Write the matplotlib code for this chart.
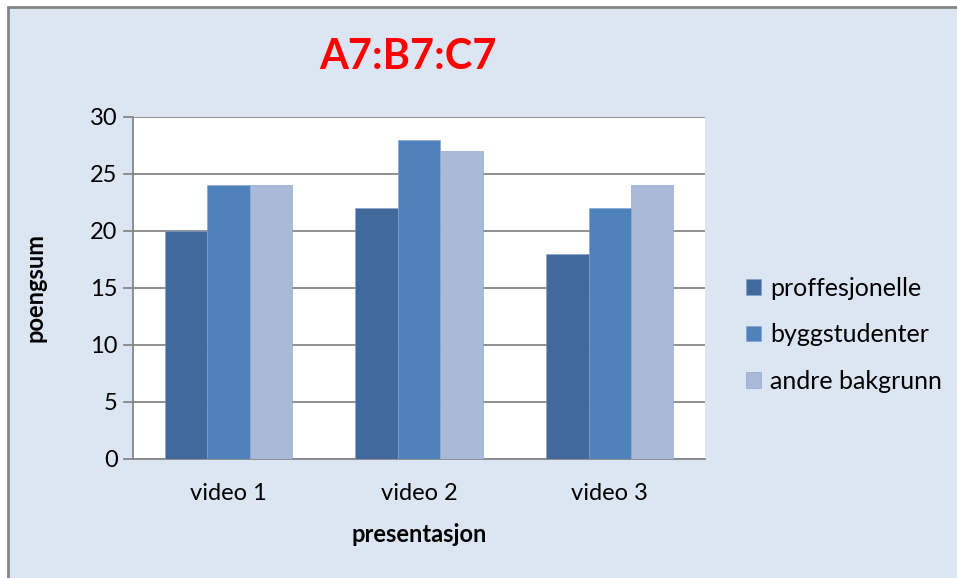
import numpy as np
import matplotlib.pyplot as plt
from matplotlib.patches import Rectangle

# Data
categories = ["video 1", "video 2", "video 3"]
series_names = ["proffesjonelle", "byggstudenter", "andre bakgrunn"]
proffesjonelle = [20, 22, 18]
byggstudenter = [24, 28, 22]
andre_bakgrunn = [24, 27, 24]

colors = ["#41699B", "#4F81BD", "#A9BAD8"]
bg = "#DCE6F2"
grey = "#878787"

plt.rcParams["font.family"] = ["Lato", "DejaVu Sans"]

fig = plt.figure(figsize=(9.57, 5.78), dpi=100, facecolor="white")
# chart area: grey frame on left/top, cut off at the right and bottom
top_y = 1 - 7 / 578
left_x = 8 / 957
fig.patches.append(Rectangle((left_x, -0.02), 1.05, top_y + 0.02, transform=fig.transFigure,
                             facecolor=bg, edgecolor="#858585", linewidth=2.0, zorder=-1))
ax = fig.add_axes([0.139, 0.2059, 0.5977, 0.5917])
ax.set_facecolor("white")

x = np.arange(len(categories))
w = 1 / 4.5
for i, (vals, name) in enumerate(zip([proffesjonelle, byggstudenter, andre_bakgrunn], series_names)):
    ax.bar(x + (i - 1) * w, vals, width=w, color=colors[i], label=name,
           edgecolor="#7FA0CC", linewidth=0.4, zorder=3)

ax.set_xlim(-0.5, 2.5)
ax.set_ylim(0, 30)
ax.set_yticks(range(0, 31, 5))
ax.set_xticks(x)
ax.set_xticklabels(categories)
ax.yaxis.grid(True, color=grey, linewidth=1.3, zorder=0)
ax.tick_params(axis="x", length=0, labelsize=17, pad=17)
ax.tick_params(axis="y", length=7, width=1.3, color=grey, labelsize=17, pad=4)
for side in ["top", "right"]:
    ax.spines[side].set_visible(False)
for side in ["left", "bottom"]:
    ax.spines[side].set_color(grey)
    ax.spines[side].set_linewidth(1.3)

ax.set_xlabel("presentasjon", fontsize=17, fontweight="bold")
ax.xaxis.set_label_coords(0.5, -0.222)
ax.xaxis.label.set_va("center")
ax.set_ylabel("poengsum", fontsize=17, fontweight="bold")
ax.yaxis.set_label_coords(-0.171, 0.5)
ax.yaxis.label.set_va("center")

fig.text(408 / 957, 1 - 57 / 578, "A7:B7:C7", color="#FF0000", fontsize=30, fontweight="bold",
         ha="center", va="center")

ax.legend(loc="center left", bbox_to_anchor=(1.055, 0.363), frameon=False, fontsize=18,
          handlelength=0.6, handleheight=0.6, handletextpad=0.35, labelspacing=0.95,
          borderaxespad=0)

fig.savefig("out.png", dpi=100, facecolor="white")
